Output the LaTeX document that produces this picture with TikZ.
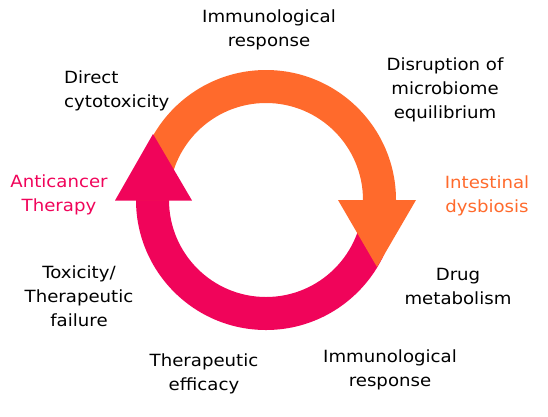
\documentclass[tikz,border=0pt]{standalone}
\usepackage{fontspec}
\setmainfont[FakeStretch=1.08]{DejaVu Sans}
\usetikzlibrary{positioning}
\definecolor{cycorange}{RGB}{255,106,44}
\definecolor{cycpink}{RGB}{240,4,90}
\tikzset{
  lbl/.style={inner sep=0pt,align=center,font=\fontsize{16.8}{24}\selectfont},
}
\begin{document}
\begin{tikzpicture}[x=1pt,y=-1pt]
\useasboundingbox (0,0) rectangle (548,416);
% ring, centre (266,200)
\fill[cycpink] (396,200) arc[start angle=0,end angle=180,radius=130]
    -- (169,200) arc[start angle=180,end angle=0,radius=97] -- cycle;
\fill[cycorange] (136,200) arc[start angle=180,end angle=360,radius=130]
    -- (363,200) arc[start angle=0,end angle=-180,radius=97] -- cycle;
% arrow heads
\fill[cycpink] (115,200.5)--(192,200.5)--(153,134)--cycle;
\fill[cycorange] (338,200)--(416,200)--(377,267)--cycle;
% labels
\node[lbl] (immtop) at (269,30) {Immunological\\response};
\node[lbl] (disrupt) at (445,90) {Disruption of\\microbiome\\equilibrium};
\node[lbl,align=left,anchor=west] (direct) at (64,91) {Direct\\cytotoxicity};
\node[lbl,cycpink] (therapy) at (59,195) {Anticancer\\Therapy};
\node[lbl,cycorange] (dysb) at (487,196) {Intestinal\\dysbiosis};
\node[lbl] (toxic) at (79,296) {Toxicity/\\Therapeutic\\failure};
\node[lbl] (drug) at (458,286) {Drug\\metabolism};
\node[lbl] (effic) at (204,374) {Therapeutic\\efficacy};
\node[lbl] (immbot) at (390,370) {Immunological\\response};
\end{tikzpicture}
\end{document}
